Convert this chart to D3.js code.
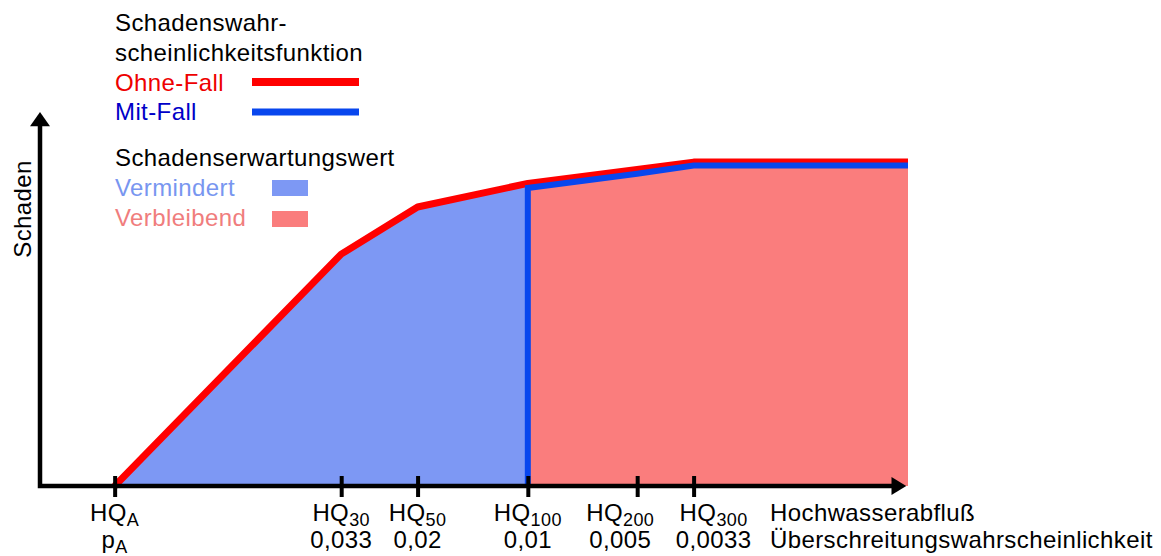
<!DOCTYPE html>
<html><head><meta charset="utf-8">
<script src="https://cdn.jsdelivr.net/npm/d3@7"></script>
<style>
html,body{margin:0;padding:0;background:#fff;}
text{font-family:"Liberation Sans",Arial,sans-serif;letter-spacing:0.4px;}
</style></head>
<body>
<svg id="chart" width="1161" height="556"></svg>
<script>
// ---- data ----
const tickSub   = ["A", "30", "50", "100", "200", "300"];
const tickProb  = ["p", "0,033", "0,02", "0,01", "0,005", "0,0033"];
const tickProbSub = ["A", "", "", "", "", ""];
const abfluss   = [8.6, 34.7, 43.5, 56.2, 68.8, 75.3];   // discharge positions (arbitrary units)
const xEnd      = 100;
const ohneX     = [8.6, 34.7, 43.5, 56.2, 68.8, 75.3, 100];
const ohneFall  = [0, 62.0, 74.6, 80.9, 84.6, 86.6, 86.6];
const mitX      = [56.2, 56.2, 68.8, 75.3, 100];
const mitFall   = [0, 79.7, 83.5, 85.7, 85.7];

const svg = d3.select("#chart");
const x = d3.scaleLinear().domain([0, xEnd]).range([40, 908]);
const y = d3.scaleLinear().domain([0, 100]).range([486, 112]);

const ohne = ohneX.map((v,i)=>({x:v,y:ohneFall[i]}));
const mit  = mitX.map((v,i)=>({x:v,y:mitFall[i]}));
const verm = ohne.filter(d=>d.x<=56.2);

const area = d3.area().x(d=>x(d.x)).y0(y(0)).y1(d=>y(d.y));
const line = d3.line().x(d=>x(d.x)).y(d=>y(d.y));

svg.append("path").datum(verm).attr("d", area).attr("fill", "#7d98f4");
svg.append("path").datum(mit).attr("d", area).attr("fill", "#fa7d7d");
svg.append("path").datum(ohne).attr("d", line).attr("fill","none")
  .attr("stroke","#ff0000").attr("stroke-width",7).attr("stroke-linejoin","round");
svg.append("path").datum(mit).attr("d", line).attr("fill","none")
  .attr("stroke","#0846ee").attr("stroke-width",6).attr("stroke-linejoin","miter");

// ---- axes ----
const x0 = x(0), yb = y(0);
svg.append("path").attr("d", `M${x0},${y(96.5)} V${yb} H${x(98.3)}`)
  .attr("fill","none").attr("stroke","#000").attr("stroke-width",4.5).attr("stroke-linejoin","miter");
svg.append("path").attr("d", `M${x0},${y(100)} L${x0-10},${y(96.2)} L${x0+10},${y(96.2)} Z`).attr("fill","#000");
svg.append("path").attr("d", `M${x(99.8)},${yb} L${x(98.1)},${yb-9} L${x(98.1)},${yb+9} Z`).attr("fill","#000");

const ax = svg.append("g").attr("transform",`translate(0,${yb})`)
  .call(d3.axisBottom(x).tickValues(abfluss).tickSize(11).tickFormat(""));
ax.select(".domain").remove();
ax.selectAll(".tick line").attr("y1",-10).attr("stroke","#000").attr("stroke-width",4);
ax.selectAll(".tick text").remove();

// label nudges (px) so crowded labels don't collide
const labelShift = [0, 0, 0, 0, -17, 20];
const lab = svg.append("g").attr("font-size",24).attr("fill","#000");
abfluss.forEach((v,i)=>{
  const cx = x(v) + labelShift[i];
  const t1 = lab.append("text").attr("x", cx).attr("y", 521).attr("text-anchor","middle");
  t1.append("tspan").text("HQ");
  t1.append("tspan").attr("font-size",18).attr("dy",5).text(tickSub[i]);
  const t2 = lab.append("text").attr("x", cx).attr("y", 548).attr("text-anchor","middle");
  t2.append("tspan").text(tickProb[i]);
  if (tickProbSub[i]) t2.append("tspan").attr("font-size",18).attr("dy",5).text(tickProbSub[i]);
});
lab.append("text").attr("x",770).attr("y",521).text("Hochwasserabfluß");
lab.append("text").attr("x",770).attr("y",548).attr("letter-spacing","0.1px").text("Überschreitungswahrscheinlichkeit");

svg.append("text").attr("font-size",24).attr("text-anchor","middle")
  .attr("transform","translate(31,209) rotate(-90)").text("Schaden");

// ---- legend ----
const lg = svg.append("g").attr("font-size",24);
lg.append("text").attr("x",115).attr("y",31).attr("fill","#000").text("Schadenswahr-");
lg.append("text").attr("x",115).attr("y",61).attr("fill","#000").text("scheinlichkeitsfunktion");
lg.append("text").attr("x",115).attr("y",91).attr("fill","#ee0000").text("Ohne-Fall");
lg.append("text").attr("x",115).attr("y",120).attr("fill","#0000c8").text("Mit-Fall");
lg.append("line").attr("x1",252).attr("x2",359).attr("y1",82).attr("y2",82).attr("stroke","#ff0000").attr("stroke-width",8);
lg.append("line").attr("x1",252).attr("x2",359).attr("y1",112).attr("y2",112).attr("stroke","#0846ee").attr("stroke-width",7);
lg.append("text").attr("x",115).attr("y",166).attr("fill","#000").text("Schadenserwartungswert");
lg.append("text").attr("x",115).attr("y",196).attr("fill","#7896f0").text("Vermindert");
lg.append("text").attr("x",115).attr("y",226).attr("fill","#f07d7d").text("Verbleibend");
lg.append("rect").attr("x",272).attr("y",180).attr("width",36).attr("height",16).attr("fill","#7d98f4");
lg.append("rect").attr("x",272).attr("y",211).attr("width",36).attr("height",16).attr("fill","#fa7d7d");
</script>
</body></html>
